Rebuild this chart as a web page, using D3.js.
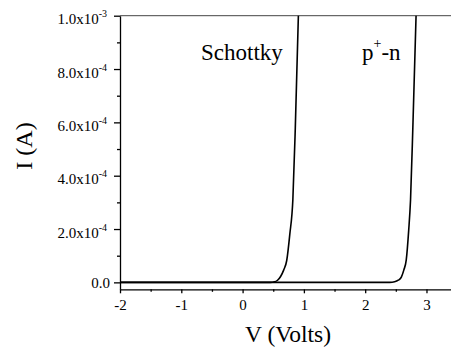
<!DOCTYPE html>
<html><head><meta charset="utf-8">
<script src="https://cdn.jsdelivr.net/npm/d3@7"></script>
</head>
<body style="margin:0"><svg id="c" width="451" height="347"></svg>
<script>
// Data
const schottkyV = [-2, 0.45, 0.52, 0.57, 0.62, 0.67, 0.72, 0.77, 0.82, 0.86, 0.91];
const schottkyI = [0, 0, 2e-6, 8e-6, 2.2e-5, 4.6e-5, 8.2e-5, 1.8e-4, 3.1e-4, 5.8e-4, 1.0e-3];
const pnV = [-2, 2.40, 2.48, 2.54, 2.59, 2.63, 2.67, 2.71, 2.74, 2.78, 2.83];
const pnI = [0, 0, 2e-6, 8e-6, 2e-5, 4.6e-5, 8.4e-5, 1.96e-4, 3.1e-4, 6e-4, 1.0e-3];
const xTicks = [-2, -1, 0, 1, 2, 3];
const xMinor = [-1.5, -0.5, 0.5, 1.5, 2.5];
const yTicks = [0, 2e-4, 4e-4, 6e-4, 8e-4, 1e-3];
const yMinor = [1e-4, 3e-4, 5e-4, 7e-4, 9e-4];
const yTickBase = ["0.0", "2.0x10", "4.0x10", "6.0x10", "8.0x10", "1.0x10"];
const yTickExp = ["", "-4", "-4", "-4", "-4", "-3"];
const curveLabels = ["Schottky", "p", "+", "-n"];

const FONT = "Liberation Serif";
const svg = d3.select("#c");
const x = d3.scaleLinear().domain([-2, 3.4]).range([120, 451]);
const y = d3.scaleLinear().domain([-2.6e-5, 1e-3]).range([289.3, 15.7]);

// top frame line
svg.append("line").attr("x1", x(-2)).attr("x2", x(3.4))
  .attr("y1", y(1e-3)).attr("y2", y(1e-3))
  .attr("stroke", "#444").attr("stroke-width", 1);

// x axis
const gx = svg.append("g").attr("transform", `translate(0,${y.range()[0]})`);
gx.call(d3.axisBottom(x).tickValues(xTicks).tickSize(4).tickSizeOuter(0).tickPadding(6)
  .tickFormat(d => String(d)));
gx.append("g").call(d3.axisBottom(x).tickValues(xMinor).tickSize(2.5).tickSizeOuter(0).tickFormat(""))
  .select(".domain").remove();
gx.selectAll("g").attr("font-family", FONT);
gx.attr("font-family", FONT);
gx.selectAll("path,line").attr("stroke", "#000").attr("stroke-width", 1.3);
gx.selectAll("text").attr("font-size", 15).attr("font-family", FONT).attr("fill", "#000");

// y axis
const gy = svg.append("g").attr("transform", `translate(${x(-2)},0)`);
gy.call(d3.axisLeft(y).tickValues(yTicks).tickSize(6).tickSizeOuter(0).tickFormat(""));
gy.append("g").call(d3.axisLeft(y).tickValues(yMinor).tickSize(3).tickSizeOuter(0).tickFormat(""))
  .select(".domain").remove();
gy.selectAll("text").remove();
gy.attr("font-family", FONT);
gy.selectAll("g").attr("font-family", FONT);
gy.selectAll("path,line").attr("stroke", "#000").attr("stroke-width", 1.3);
yTicks.forEach((v, i) => {
  const t = svg.append("text").attr("x", yTickExp[i] ? 107 : 110).attr("y", y(v) + (yTickExp[i] ? 8.5 : 5.5))
    .attr("font-size", 15).attr("font-family", FONT).attr("text-anchor", "end").attr("fill", "#000");
  t.append("tspan").text(yTickBase[i]);
  if (yTickExp[i]) t.append("tspan").attr("font-size", 10).attr("dy", -7).text(yTickExp[i]);
});

// curves
const line = d3.line().x(d => x(d[0])).y(d => y(d[1])).curve(d3.curveMonotoneX);
[[schottkyV, schottkyI], [pnV, pnI]].forEach(([vs, is]) => {
  svg.append("path").datum(vs.map((v, i) => [v, is[i]]))
    .attr("d", line).attr("fill", "none").attr("stroke", "#000").attr("stroke-width", 1.6);
});

// curve labels
svg.append("text").attr("x", 201).attr("y", 60).attr("font-size", 23).attr("font-family", FONT)
  .text(curveLabels[0]);
const pl = svg.append("text").attr("x", 362).attr("y", 60).attr("font-size", 23).attr("font-family", FONT);
pl.append("tspan").text(curveLabels[1]);
pl.append("tspan").attr("font-size", 14).attr("dy", -12).text(curveLabels[2]);
pl.append("tspan").attr("dy", 12).text(curveLabels[3]);

// axis titles
svg.append("text").attr("x", 288).attr("y", 341.5).attr("font-size", 23.5).attr("font-family", FONT)
  .attr("text-anchor", "middle").text("V (Volts)");
svg.append("text").attr("transform", "translate(31.5,146) rotate(-90)").attr("font-size", 24)
  .attr("font-family", FONT).attr("text-anchor", "middle").text("I (A)");
</script></body></html>
